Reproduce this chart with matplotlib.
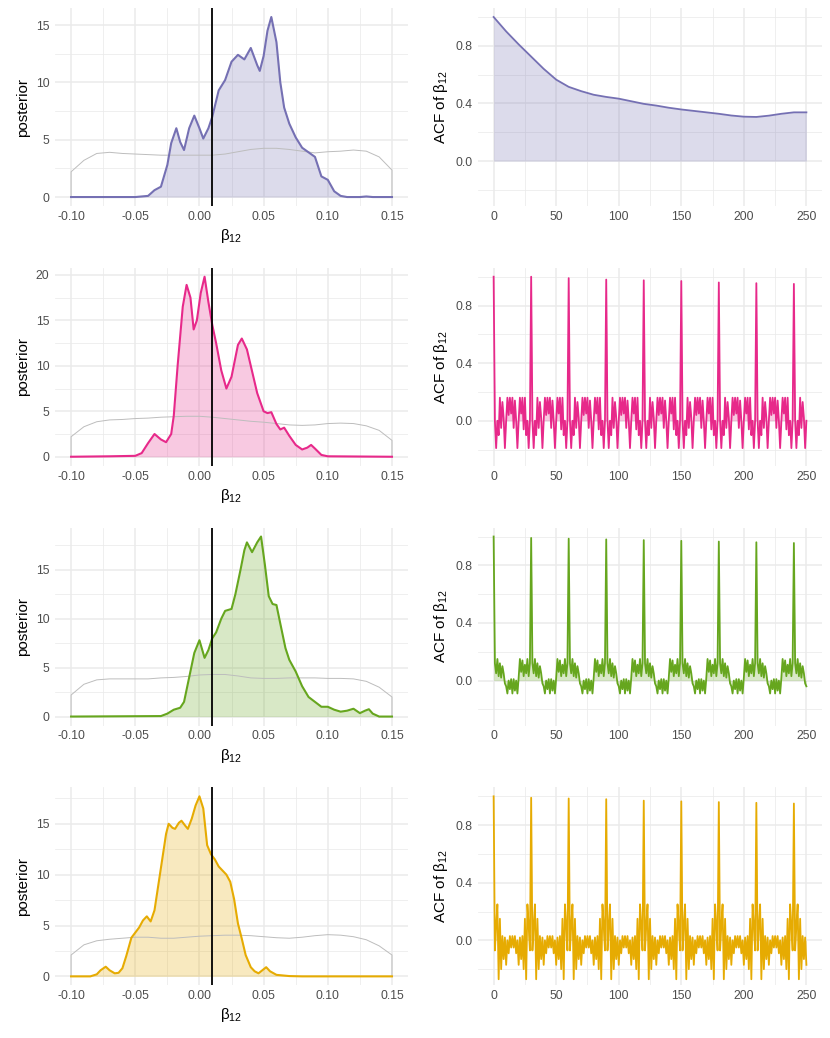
import numpy as np
import matplotlib
matplotlib.use("Agg")
import matplotlib.pyplot as plt
from matplotlib.ticker import MultipleLocator, FixedLocator, FormatStrFormatter

plt.rcParams["font.family"] = ["Liberation Sans", "DejaVu Sans"]
plt.rcParams["mathtext.fontset"] = "custom"
plt.rcParams["mathtext.rm"] = "Liberation Sans"
plt.rcParams["mathtext.it"] = "Liberation Sans:italic"
plt.rcParams["mathtext.default"] = "regular"

# posterior densities

purple_x = [-0.100, -0.050, -0.040, -0.035, -0.030, -0.025, -0.022, -0.018, -0.015, -0.012, -0.008,
            -0.004, 0.000, 0.003, 0.007, 0.010, 0.015, 0.020, 0.025, 0.030, 0.035, 0.040, 0.045,
            0.047, 0.050, 0.053, 0.056, 0.060, 0.063, 0.066, 0.070, 0.075, 0.080, 0.085, 0.090,
            0.095, 0.100, 0.105, 0.110, 0.115, 0.125, 0.130, 0.135, 0.150]
purple_y = [0.0, 0.0, 0.1, 0.6, 0.9, 2.8, 4.7, 6.0, 4.8, 4.1, 6.0,
            7.1, 6.0, 5.1, 6.0, 7.0, 9.3, 10.2, 11.8, 12.4, 12.0, 13.0, 11.5,
            11.0, 12.3, 14.5, 15.7, 13.5, 10.0, 7.8, 6.4, 5.2, 4.3, 3.9, 3.5,
            1.8, 1.5, 0.5, 0.1, 0.0, 0.0, 0.05, 0.0, 0.0]

pink_x = [-0.100, -0.070, -0.050, -0.045, -0.040, -0.035, -0.030, -0.026, -0.022, -0.020, -0.017,
          -0.013, -0.010, -0.007, -0.0045, -0.002, 0.001, 0.004, 0.007, 0.010, 0.013, 0.017,
          0.021, 0.025, 0.030, 0.033, 0.037, 0.040, 0.045, 0.050, 0.053, 0.056, 0.060, 0.063,
          0.066, 0.070, 0.075, 0.080, 0.084, 0.087, 0.090, 0.095, 0.100, 0.150]
pink_y = [0.0, 0.05, 0.1, 0.4, 1.5, 2.5, 1.9, 1.6, 2.5, 4.5, 10.0,
          16.5, 18.9, 17.5, 14.0, 15.0, 18.0, 19.8, 17.0, 14.5, 12.5, 9.5,
          7.5, 8.8, 12.3, 13.0, 11.8, 10.0, 7.0, 5.0, 4.8, 4.9, 3.6, 3.0,
          3.2, 2.3, 1.3, 0.8, 1.0, 1.3, 0.9, 0.2, 0.05, 0.0]

green_x = [-0.100, -0.030, -0.025, -0.020, -0.015, -0.012, -0.008, -0.004, 0.000, 0.004, 0.007,
           0.010, 0.013, 0.017, 0.020, 0.025, 0.028, 0.032, 0.035, 0.037, 0.041, 0.045, 0.048,
           0.051, 0.054, 0.057, 0.060, 0.063, 0.067, 0.070, 0.075, 0.080, 0.085, 0.090, 0.095,
           0.100, 0.105, 0.110, 0.115, 0.120, 0.125, 0.129, 0.132, 0.135, 0.140, 0.150]
green_y = [0.0, 0.05, 0.3, 0.7, 0.9, 1.5, 4.0, 6.5, 7.8, 6.0, 6.8,
           8.0, 8.6, 10.0, 10.8, 11.0, 12.5, 15.0, 17.0, 17.8, 16.8, 17.8, 18.4,
           15.5, 12.3, 11.5, 11.4, 9.5, 7.0, 5.8, 4.6, 3.1, 2.0, 1.5, 1.0,
           1.0, 0.7, 0.5, 0.6, 0.8, 0.35, 0.6, 0.75, 0.3, 0.0, 0.0]

yellow_x = [-0.100, -0.085, -0.080, -0.077, -0.073, -0.070, -0.066, -0.063, -0.060, -0.057, -0.053,
            -0.050, -0.047, -0.044, -0.041, -0.038, -0.035, -0.032, -0.029, -0.026, -0.024, -0.021,
            -0.019, -0.016, -0.014, -0.011, -0.009, -0.006, -0.003, 0.000, 0.003, 0.006, 0.009,
            0.012, 0.015, 0.018, 0.021, 0.024, 0.027, 0.030, 0.033, 0.036, 0.040, 0.043, 0.046,
            0.049, 0.052, 0.055, 0.060, 0.070, 0.080, 0.150]
yellow_y = [0.0, 0.0, 0.2, 0.6, 0.95, 0.6, 0.3, 0.35, 0.8, 2.0, 3.8,
            4.3, 4.8, 5.5, 5.9, 5.4, 6.5, 9.0, 11.5, 14.0, 15.0, 14.6,
            14.5, 15.1, 15.3, 14.8, 14.5, 15.5, 16.8, 17.7, 16.5, 12.9, 12.0,
            11.5, 10.8, 10.4, 10.0, 9.3, 7.6, 5.2, 3.7, 2.1, 0.9, 0.5, 0.3,
            0.6, 0.9, 0.5, 0.15, 0.03, 0.0, 0.0]

# prior density (thin grey line), closed down to zero at both ends
prior_x = [-0.10, -0.10, -0.09, -0.08, -0.07, -0.06, -0.05, -0.04, -0.03, -0.02, -0.01, 0.00, 0.01,
           0.02, 0.03, 0.04, 0.05, 0.06, 0.07, 0.08, 0.09, 0.10, 0.11, 0.12, 0.13, 0.14, 0.15, 0.15]
purple_prior = [0, 2.2, 3.2, 3.8, 3.9, 3.8, 3.75, 3.7, 3.65, 3.65, 3.65, 3.65, 3.65,
                3.75, 3.95, 4.15, 4.25, 4.25, 4.15, 4.0, 3.85, 3.95, 4.0, 4.1, 4.0, 3.5, 2.35, 0]
pink_prior = [0, 2.2, 3.3, 3.85, 4.05, 4.1, 4.2, 4.25, 4.35, 4.4, 4.45, 4.45, 4.35,
              4.2, 4.05, 3.9, 3.8, 3.65, 3.5, 3.45, 3.5, 3.65, 3.7, 3.65, 3.4, 2.9, 1.8, 0]
green_prior = [0, 2.2, 3.3, 3.75, 3.85, 3.85, 3.85, 3.85, 3.95, 4.0, 4.1, 4.25, 4.3,
               4.3, 4.15, 3.95, 3.9, 3.9, 3.95, 3.95, 3.95, 3.9, 3.9, 3.85, 3.6, 3.0, 2.0, 0]
yellow_prior = [0, 2.1, 3.1, 3.5, 3.65, 3.75, 3.85, 3.85, 3.75, 3.75, 3.85, 3.95, 4.0,
                4.05, 4.05, 4.0, 3.9, 3.8, 3.75, 3.85, 4.0, 4.1, 4.05, 3.9, 3.6, 3.0, 2.1, 0]

true_value = 0.01

# autocorrelations

purple_lag = [0, 10, 20, 30, 40, 50, 60, 70, 80, 90, 100, 110, 120, 130, 140, 150, 160, 170,
              180, 190, 200, 210, 220, 230, 240, 250]
purple_acf = [1.0, 0.9, 0.81, 0.725, 0.64, 0.565, 0.515, 0.485, 0.46, 0.445, 0.433, 0.415, 0.397,
              0.385, 0.37, 0.358, 0.348, 0.338, 0.328, 0.316, 0.308, 0.306, 0.315, 0.328, 0.338, 0.338]

# the other chains repeat every 30 lags: a spike, then the same wiggle (lags 1..29)
pink_peaks = [1.0, 1.0, 0.99, 0.98, 0.975, 0.97, 0.96, 0.955, 0.95]
pink_between = [0.00, -0.19, 0.00, -0.10, 0.16, -0.05, 0.13, 0.02, -0.19, 0.00,
                0.16, 0.04, 0.16, 0.05, 0.16, -0.05, 0.14, 0.00, -0.19, 0.00,
                0.16, 0.05, 0.16, -0.06, 0.16, -0.10, 0.00, -0.19, 0.00]

green_peaks = [1.0, 0.99, 0.985, 0.98, 0.975, 0.97, 0.965, 0.96, 0.955]
green_between = [0.12, 0.05, 0.15, 0.03, 0.12, 0.02, 0.10, 0.05, -0.02, -0.04,
                 -0.09, 0.00, -0.06, 0.01, -0.09, 0.01, -0.07, 0.00, -0.09, 0.02,
                 0.15, 0.06, 0.14, 0.03, 0.11, 0.05, 0.15, 0.03, 0.12]

yellow_peaks = [1.0, 0.99, 0.985, 0.98, 0.97, 0.965, 0.96, 0.955, 0.95]
yellow_between = [-0.07, 0.10, 0.25, -0.27, 0.15, -0.20, 0.03, -0.13, 0.02, -0.17,
                  0.00, -0.09, 0.03, -0.05, 0.03, -0.05, 0.03, -0.09, 0.00, -0.17,
                  0.02, -0.13, 0.03, -0.20, 0.15, -0.27, 0.25, 0.10, -0.07]

n_lags = 251


def periodic_acf(peaks, between):
    vals = []
    for p in peaks:
        vals += [p] + between
    return np.array(vals[:n_lags])


colors = ["#7570B3", "#E7298A", "#66A61E", "#E6AB02"]
dens_x = [purple_x, pink_x, green_x, yellow_x]
dens_y = [purple_y, pink_y, green_y, yellow_y]
priors = [purple_prior, pink_prior, green_prior, yellow_prior]
acf_lags = [purple_lag, np.arange(n_lags), np.arange(n_lags), np.arange(n_lags)]
acf_vals = [purple_acf, periodic_acf(pink_peaks, pink_between),
            periodic_acf(green_peaks, green_between), periodic_acf(yellow_peaks, yellow_between)]

grid_col = "#EBEBEB"
text_col = "#4D4D4D"


def style(ax):
    for s in ax.spines.values():
        s.set_visible(False)
    ax.set_axisbelow(True)
    ax.grid(which="major", color=grid_col, lw=1.1)
    ax.grid(which="minor", color=grid_col, lw=0.55)
    ax.tick_params(which="both", length=0, labelsize=8.8, labelcolor=text_col)
    ax.tick_params(axis="x", pad=3.5)
    ax.tick_params(axis="y", pad=4)


fig = plt.figure(figsize=(8.3, 10.38), dpi=100)
bottoms = [0.8015, 0.5513, 0.3010, 0.0507]
h = 0.1908

for i in range(4):
    c = colors[i]

    # left: posterior density
    ax = fig.add_axes([0.0663, bottoms[i], 0.4253, h])
    style(ax)
    ax.fill_between(dens_x[i], dens_y[i], color=c, alpha=0.25, lw=0)
    ax.plot(prior_x, priors[i], color="#BDBDBD", lw=0.7)
    ax.plot(dens_x[i], dens_y[i], color=c, lw=1.5, solid_joinstyle="round")
    ax.axvline(true_value, color="black", lw=1.3)
    m = max(dens_y[i])
    ax.set_ylim(-0.05 * m, 1.05 * m)
    ax.set_xlim(-0.1125, 0.1625)
    ax.xaxis.set_major_locator(FixedLocator([-0.10, -0.05, 0.0, 0.05, 0.10, 0.15]))
    ax.xaxis.set_minor_locator(FixedLocator([-0.075, -0.025, 0.025, 0.075, 0.125]))
    ax.xaxis.set_major_formatter(FormatStrFormatter("%.2f"))
    ax.yaxis.set_major_locator(MultipleLocator(5))
    ax.yaxis.set_minor_locator(MultipleLocator(2.5))
    ax.set_xlabel("β$_{12}$", fontsize=11, labelpad=3)
    ax.set_ylabel("posterior", fontsize=11, labelpad=4)

    # right: autocorrelation
    ax = fig.add_axes([0.5759, bottoms[i], 0.4145, h])
    style(ax)
    ax.fill_between(acf_lags[i], acf_vals[i], color=c, alpha=0.25, lw=0)
    ax.plot(acf_lags[i], acf_vals[i], color=c, lw=1.3, solid_joinstyle="round")
    ax.set_ylim(-0.3125, 1.0625)
    ax.set_xlim(-12.5, 262.5)
    ax.xaxis.set_major_locator(MultipleLocator(50))
    ax.xaxis.set_minor_locator(FixedLocator([25, 75, 125, 175, 225]))
    ax.yaxis.set_major_locator(FixedLocator([0.0, 0.4, 0.8]))
    ax.yaxis.set_minor_locator(FixedLocator([-0.2, 0.2, 0.6, 1.0]))
    ax.yaxis.set_major_formatter(FormatStrFormatter("%.1f"))
    ax.set_ylabel("ACF of β$_{12}$", fontsize=11, labelpad=4)

plt.savefig("out.png", dpi=100)
